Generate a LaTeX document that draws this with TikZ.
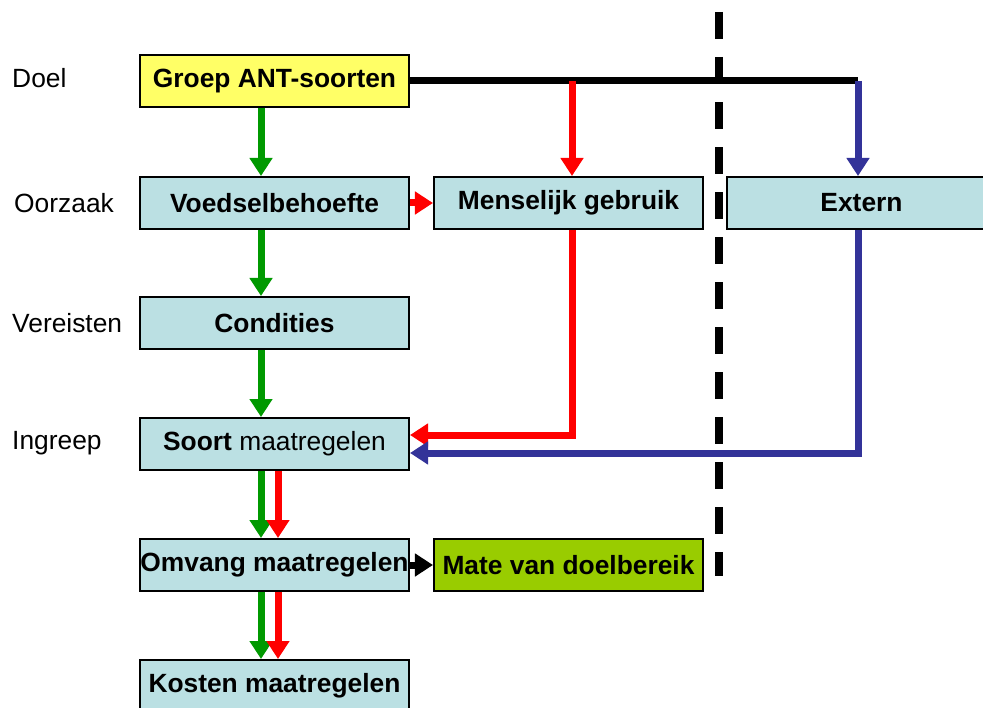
\documentclass[tikz,border=0pt]{standalone}
\usepackage{fontspec}
\setmainfont{Liberation Sans}
\usetikzlibrary{arrows.meta}

\definecolor{antbox}{RGB}{187,224,227}
\definecolor{antgoal}{RGB}{255,255,102}
\definecolor{antresult}{RGB}{153,204,0}
\definecolor{antgreen}{RGB}{0,153,0}
\definecolor{antred}{RGB}{255,0,0}
\definecolor{antblue}{RGB}{51,51,153}

\begin{document}
\begin{tikzpicture}[x=0.03cm,y=-0.03cm,
  font=\fontsize{22.5}{26}\selectfont,
  stepbox/.style={shape=rectangle,draw,line width=0.06cm,fill=antbox,minimum width=8.07cm,minimum height=1.56cm,inner sep=0pt,font=\fontsize{22.5}{26}\selectfont\bfseries},
  rowlabel/.style={anchor=west,inner sep=0pt},
  flow/.style={line width=0.21cm,-{Triangle[width=0.66cm,length=0.54cm]}},
  greenflow/.style={flow,color=antgreen},
  redflow/.style={flow,color=antred},
  blueflow/.style={flow,color=antblue},
  blackflow/.style={flow,color=black}]
\useasboundingbox (0,0) rectangle (983,708);

\node[rowlabel] (doel) at (12,78) {Doel};
\node[rowlabel] (oorzaak) at (14,203) {Oorzaak};
\node[rowlabel] (vereisten) at (12,323) {Vereisten};
\node[rowlabel] (ingreep) at (12,443) {Ingreep};

\node[stepbox,fill=antgoal] (groep) at (274.5,81) {Groep ANT-soorten};
\node[stepbox] (voedsel) at (274.5,203) {Voedselbehoefte};
\node[stepbox] (menselijk) at (568.5,203) {Menselijk gebruik};
\node[stepbox] (extern) at (861.5,203) {Extern};
\node[stepbox] (condities) at (274.5,323) {Condities};
\node[stepbox] (soort) at (274.5,444) {Soort \mdseries maatregelen};
\node[stepbox] (omvang) at (274.5,565) {Omvang maatregelen};
\node[stepbox,fill=antresult] (mate) at (568.5,565) {Mate van doelbereik};
\node[stepbox] (kosten) at (274.5,686) {Kosten maatregelen};

\coordinate (gx) at (261,0);
\coordinate (rx) at (278,0);
\coordinate (mx) at (572,0);
\coordinate (bx) at (858,0);

% dashed border
\draw[line width=0.24cm,dash pattern=on 0.8cm off 0.55cm] (719,12) -- (719,576);

% groep to the three causes
\draw[line width=0.21cm] (groep.east) -- (groep.east -| bx);
\draw[redflow] (groep.east -| mx) -- (menselijk.north -| mx);
\draw[blueflow] (groep.east -| bx) -- (extern.north -| bx);
\draw[greenflow] (groep.south -| gx) -- (voedsel.north -| gx);

\draw[redflow] (voedsel.east) -- (menselijk.west);
\draw[greenflow] (voedsel.south -| gx) -- (condities.north -| gx);
\draw[greenflow] (condities.south -| gx) -- (soort.north -| gx);

\draw[redflow] (menselijk.south -| mx) |- ([yshift=0.27cm]soort.east);
\draw[blueflow] (extern.south -| bx) |- ([yshift=-0.27cm]soort.east);

\draw[greenflow] (soort.south -| gx) -- (omvang.north -| gx);
\draw[redflow] (soort.south -| rx) -- (omvang.north -| rx);
\draw[blackflow] (omvang.east) -- (mate.west);
\draw[greenflow] (omvang.south -| gx) -- (kosten.north -| gx);
\draw[redflow] (omvang.south -| rx) -- (kosten.north -| rx);
\end{tikzpicture}
\end{document}
